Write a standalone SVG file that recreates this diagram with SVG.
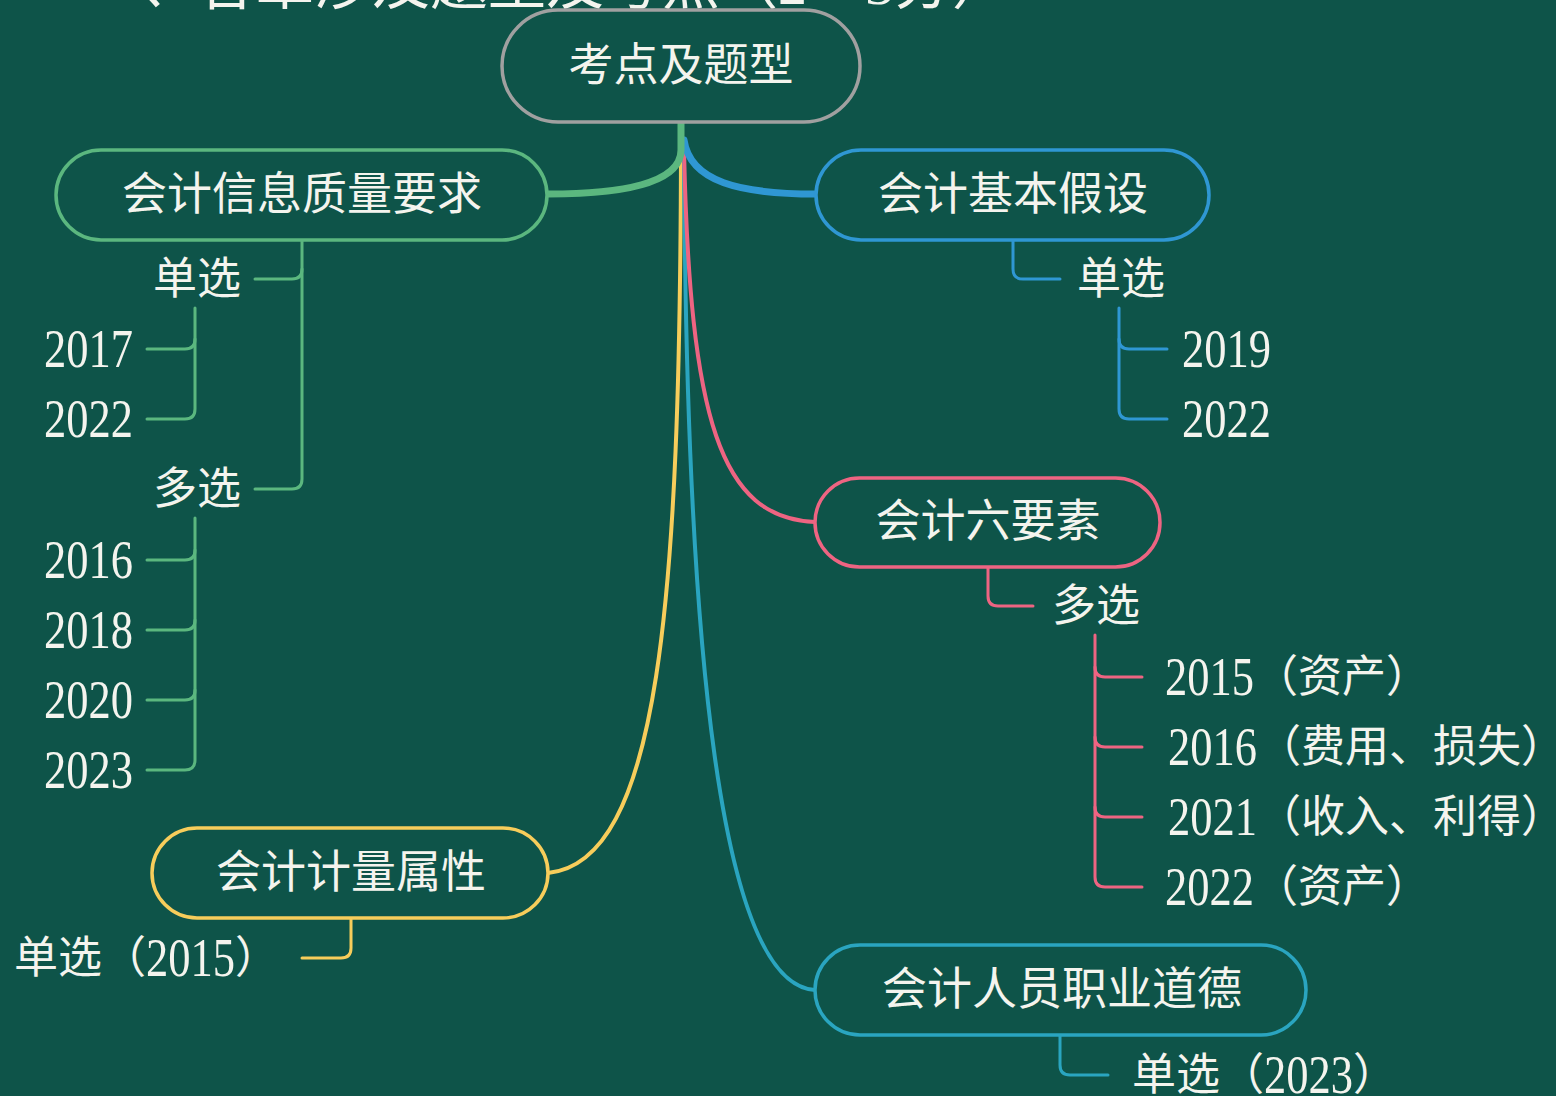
<svg xmlns="http://www.w3.org/2000/svg" width="1556" height="1096" viewBox="0 0 1556 1096">
<style>
.t{font-family:"Liberation Serif","Noto Sans CJK SC",serif;fill:#f4f4ee;dominant-baseline:central}
.n{font-size:45px;text-anchor:middle}
.s{font-size:44px}
.node{fill:#0e5449;stroke-width:3.5}
.c{fill:none;stroke-linecap:round;stroke-linejoin:round}
</style>
<rect x="0" y="0" width="1556" height="1096" fill="#0e5449"/>
<text x="140" y="4" style="font-family:'Liberation Serif','Noto Sans CJK SC',serif;font-size:58px;fill:#f4f4ee">、各章涉及题型及考点（2～3分）</text>
<g id="connectors">
<path class="c" d="M681,150 C680,600 660,862 548,873" stroke="#f7cd5b" stroke-width="4"/>
<path class="c" d="M684,150 C686,650 720,985 815,990" stroke="#2aa5c0" stroke-width="4"/>
<path class="c" d="M684,150 C690,420 720,518 815,522" stroke="#ee6482" stroke-width="4"/>
<path class="c" d="M684,140 C690,182 740,194 816,194" stroke="#2f97d3" stroke-width="7"/>
<path class="c" d="M681,120 V150 C681,184 620,194 548,194" stroke="#5bb77f" stroke-width="7"/>
<g stroke="#5bb77f" stroke-width="3" class="c">
<path d="M302,240 V479 Q302,489 292,489 H255"/>
<path d="M302,269 Q302,279 292,279 H255"/>
<path d="M195,308 V409 Q195,419 185,419 H147"/>
<path d="M195,339 Q195,349 185,349 H147"/>
<path d="M195,518 V760 Q195,770 185,770 H147"/>
<path d="M195,550 Q195,560 185,560 H147"/>
<path d="M195,620 Q195,630 185,630 H147"/>
<path d="M195,690 Q195,700 185,700 H147"/>
</g>
<g stroke="#2f97d3" stroke-width="3" class="c">
<path d="M1013,240 V269 Q1013,279 1023,279 H1060"/>
<path d="M1119,308 V409 Q1119,419 1129,419 H1167"/>
<path d="M1119,339 Q1119,349 1129,349 H1167"/>
</g>
<g stroke="#ee6482" stroke-width="3" class="c">
<path d="M988,567 V596 Q988,606 998,606 H1033"/>
<path d="M1095,635 V877 Q1095,887 1105,887 H1142"/>
<path d="M1095,667 Q1095,677 1105,677 H1142"/>
<path d="M1095,737 Q1095,747 1105,747 H1142"/>
<path d="M1095,807 Q1095,817 1105,817 H1142"/>
</g>
<path class="c" d="M351,918 V948 Q351,958 341,958 H302" stroke="#f7cd5b" stroke-width="3"/>
<path class="c" d="M1060,1035 V1065 Q1060,1075 1070,1075 H1108" stroke="#2aa5c0" stroke-width="3"/>
</g>
<g id="root">
<rect class="node" x="502" y="10" width="358" height="112" rx="56" stroke="#a0a0a0"/>
<text class="t n" x="681" y="66">考点及题型</text>
</g>
<g id="n-quality">
<rect class="node" x="56" y="150" width="491" height="90" rx="45" stroke="#5bb77f"/>
<text class="t n" x="302" y="195">会计信息质量要求</text>
</g>
<g id="n-quality-single"><text class="t s" x="241" y="279" text-anchor="end">单选</text></g>
<g id="n-quality-2017"><text class="t s" x="133" y="349" text-anchor="end"><tspan font-size="54" textLength="89" lengthAdjust="spacingAndGlyphs">2017</tspan></text></g>
<g id="n-quality-2022"><text class="t s" x="133" y="419" text-anchor="end"><tspan font-size="54" textLength="89" lengthAdjust="spacingAndGlyphs">2022</tspan></text></g>
<g id="n-quality-multi"><text class="t s" x="241" y="489" text-anchor="end">多选</text></g>
<g id="n-quality-2016"><text class="t s" x="133" y="560" text-anchor="end"><tspan font-size="54" textLength="89" lengthAdjust="spacingAndGlyphs">2016</tspan></text></g>
<g id="n-quality-2018"><text class="t s" x="133" y="630" text-anchor="end"><tspan font-size="54" textLength="89" lengthAdjust="spacingAndGlyphs">2018</tspan></text></g>
<g id="n-quality-2020"><text class="t s" x="133" y="700" text-anchor="end"><tspan font-size="54" textLength="89" lengthAdjust="spacingAndGlyphs">2020</tspan></text></g>
<g id="n-quality-2023"><text class="t s" x="133" y="770" text-anchor="end"><tspan font-size="54" textLength="89" lengthAdjust="spacingAndGlyphs">2023</tspan></text></g>
<g id="n-assume">
<rect class="node" x="816" y="150" width="393" height="90" rx="45" stroke="#2f97d3"/>
<text class="t n" x="1013" y="195">会计基本假设</text>
</g>
<g id="n-assume-single"><text class="t s" x="1077" y="279">单选</text></g>
<g id="n-assume-2019"><text class="t s" x="1182" y="349"><tspan font-size="54" textLength="89" lengthAdjust="spacingAndGlyphs">2019</tspan></text></g>
<g id="n-assume-2022"><text class="t s" x="1182" y="419"><tspan font-size="54" textLength="89" lengthAdjust="spacingAndGlyphs">2022</tspan></text></g>
<g id="n-elements">
<rect class="node" x="815" y="478" width="345" height="89" rx="44.5" stroke="#ee6482"/>
<text class="t n" x="988" y="522">会计六要素</text>
</g>
<g id="n-elements-multi"><text class="t s" x="1052" y="606">多选</text></g>
<g id="n-elements-2015"><text class="t s" x="1165" y="677"><tspan font-size="54" textLength="89" lengthAdjust="spacingAndGlyphs">2015</tspan>（资产）</text></g>
<g id="n-elements-2016"><text class="t s" x="1168" y="747"><tspan font-size="54" textLength="89" lengthAdjust="spacingAndGlyphs">2016</tspan>（费用、损失）</text></g>
<g id="n-elements-2021"><text class="t s" x="1168" y="817"><tspan font-size="54" textLength="89" lengthAdjust="spacingAndGlyphs">2021</tspan>（收入、利得）</text></g>
<g id="n-elements-2022"><text class="t s" x="1165" y="887"><tspan font-size="54" textLength="89" lengthAdjust="spacingAndGlyphs">2022</tspan>（资产）</text></g>
<g id="n-measure">
<rect class="node" x="152" y="828" width="396" height="90" rx="45" stroke="#f7cd5b"/>
<text class="t n" x="351" y="873">会计计量属性</text>
</g>
<g id="n-measure-single"><text class="t s" x="14" y="958">单选（<tspan font-size="54" textLength="89" lengthAdjust="spacingAndGlyphs">2015</tspan>）</text></g>
<g id="n-ethics">
<rect class="node" x="815" y="945" width="491" height="90" rx="45" stroke="#2aa5c0"/>
<text class="t n" x="1062" y="990">会计人员职业道德</text>
</g>
<g id="n-ethics-single"><text class="t s" x="1132" y="1075">单选（<tspan font-size="54" textLength="89" lengthAdjust="spacingAndGlyphs">2023</tspan>）</text></g>
</svg>
